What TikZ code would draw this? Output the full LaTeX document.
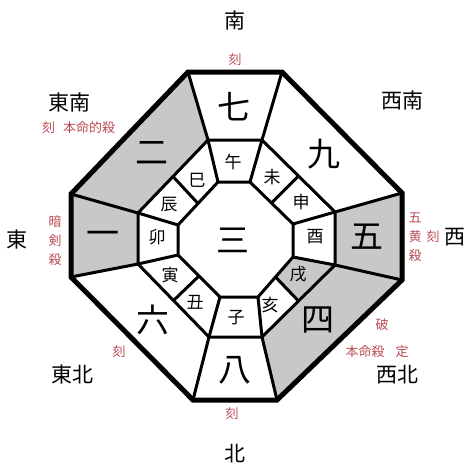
\documentclass[tikz,border=0pt]{standalone}
\usepackage{fontspec}
\usetikzlibrary{calc}
\newfontfamily\jp{Noto Sans CJK JP}
\definecolor{cellgray}{RGB}{200,200,200}
\definecolor{redtxt}{RGB}{185,75,85}
\begin{document}
\begin{tikzpicture}[x=1pt,y=-1pt,
  thin line/.style={line width=3pt,line join=miter},
  thick line/.style={line width=5pt,line join=miter},
  grayfill/.style={fill=cellgray},
  num/.style={font=\jp\fontsize{33}{33}\selectfont,inner sep=0pt},
  zod/.style={font=\jp\fontsize{17}{17}\selectfont,inner sep=0pt},
  dir/.style={font=\jp\fontsize{21}{21}\selectfont,inner sep=0pt},
  lab/.style={font=\jp\fontsize{13}{13}\selectfont,text=redtxt,inner sep=0pt},
  vlab/.style={font=\jp\fontsize{13}{19}\selectfont,text=redtxt,inner sep=0pt,align=center}]
\useasboundingbox (0,0) rectangle (474,474);
% outer octagon
\coordinate (O1) at (188,72); \coordinate (O2) at (282,72);
\coordinate (O3) at (402,193); \coordinate (O4) at (402,280);
\coordinate (O5) at (277,400); \coordinate (O6) at (193,400);
\coordinate (O7) at (71,277); \coordinate (O8) at (71,194);
% middle octagon
\coordinate (M1) at (208,140); \coordinate (M2) at (262,140);
\coordinate (M3) at (335,212); \coordinate (M4) at (335,265);
\coordinate (M5) at (262,337); \coordinate (M6) at (209,337);
\coordinate (M7) at (138,264); \coordinate (M8) at (138,213);
% inner octagon
\coordinate (I1) at (218,182); \coordinate (I2) at (250,182);
\coordinate (I3) at (293,224); \coordinate (I4) at (293,257);
\coordinate (I5) at (258,297); \coordinate (I6) at (220,297);
\coordinate (I7) at (178,255); \coordinate (I8) at (178,225);
% mid-diagonal points
\coordinate (MA) at ($(M2)!0.5!(M3)$); \coordinate (IA) at ($(I2)!0.5!(I3)$);
\coordinate (MB) at ($(M4)!0.5!(M5)$); \coordinate (IB) at ($(I4)!0.5!(I5)$);
\coordinate (MC) at ($(M6)!0.5!(M7)$); \coordinate (IC) at ($(I6)!0.5!(I7)$);
\coordinate (MD) at ($(M8)!0.5!(M1)$); \coordinate (ID) at ($(I8)!0.5!(I1)$);
% shaded cells
\fill[grayfill] (O7) -- (O8) -- (O1) -- (M1) -- (M8) -- (M7) -- cycle;
\fill[grayfill] (O3) -- (O4) -- (O5) -- (M5) -- (M4) -- (M3) -- cycle;
\fill[grayfill] (I4) -- (M4) -- (MB) -- (IB) -- cycle;
% internal lines
\draw[thin line] (M1) -- (M2) -- (M3) -- (M4) -- (M5) -- (M6) -- (M7) -- (M8) -- cycle;
\draw[thin line] (I1) -- (I2) -- (I3) -- (I4) -- (I5) -- (I6) -- (I7) -- (I8) -- cycle;
\foreach \k in {1,...,8} {\draw[thin line] (O\k) -- (M\k); \draw[thin line] (I\k) -- (M\k);}
\foreach \k in {A,B,C,D} {\draw[thin line] (I\k) -- (M\k);}
% outer octagon
\draw[thick line] (O1) -- (O2) -- (O3) -- (O4) -- (O5) -- (O6) -- (O7) -- (O8) -- cycle;
% numbers
\node[num] (n7) at (234,107) {七};
\node[num] (n9) at (324,154) {九};
\node[num] (n5) at (367,237) {五};
\node[num] (n4) at (318,320) {四};
\node[num] (n8) at (235,370) {八};
\node[num] (n6) at (153,320) {六};
\node[num] (n1) at (103,238) {一};
\node[num] (n2) at (152,153) {二};
\node[num] (n3) at (233,240) {三};
% zodiac
\node[zod] (zw) at (233,162) {午};
\node[zod] (zh) at (272,177) {未};
\node[zod] (zs) at (301,202) {申};
\node[zod] (zt) at (315,237) {酉};
\node[zod] (zi) at (298,274) {戌};
\node[zod] (zb) at (270,305) {亥};
\node[zod] (zr) at (236,318) {子};
\node[zod] (zo) at (195,302) {丑};
\node[zod] (zg) at (170,275) {寅};
\node[zod] (zu) at (157,237) {卯};
\node[zod] (zd) at (169,205) {辰};
\node[zod] (zm) at (197,180) {巳};
% directions
\node[dir] (dS) at (235,21) {南};
\node[dir] (dSE) at (69,103) {東南};
\node[dir] (dSW) at (402,101) {西南};
\node[dir] (dE) at (17,240) {東};
\node[dir] (dW) at (455,237) {西};
\node[dir] (dNE) at (72,375) {東北};
\node[dir] (dNW) at (397,375) {西北};
\node[dir] (dN) at (235,454) {北};
% red labels
\node[lab] (lS) at (235,60) {刻};
\node[lab,anchor=west] (lSE) at (42,128) {刻\hspace{0.6em}本命的殺};
\node[vlab] (lE) at (55,241) {暗\\剣\\殺};
\node[vlab] (lW) at (415,237) {五\\黄\\殺};
\node[lab] (lW2) at (433,237) {刻};
\node[lab] (lNE) at (119,352) {刻};
\node[lab] (lN) at (232,414) {刻};
\node[lab] (lNW1) at (382,325) {破};
\node[lab] (lNW2) at (365,352) {本命殺};
\node[lab] (lNW3) at (402,352) {定};
\end{tikzpicture}
\end{document}
